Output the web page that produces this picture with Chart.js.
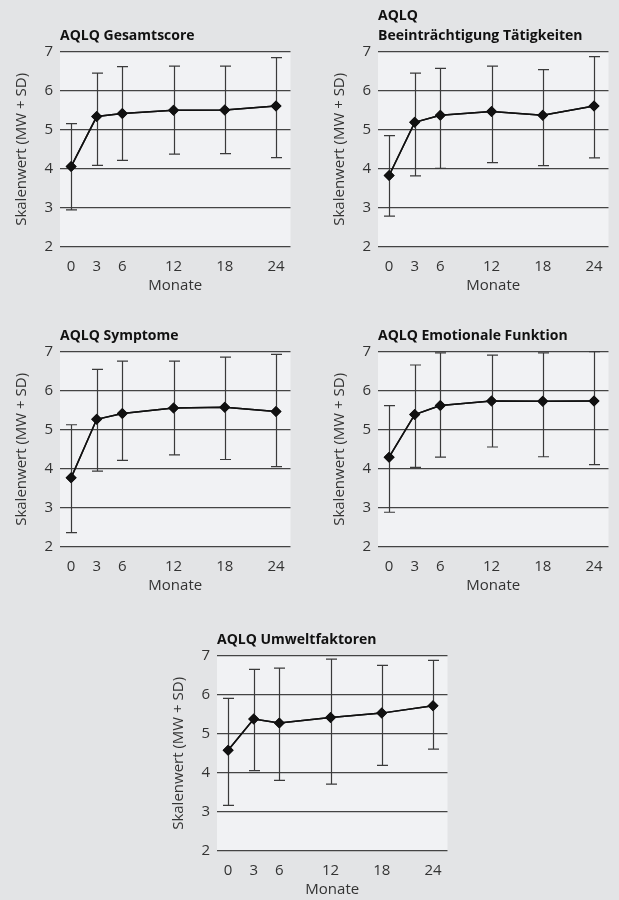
<!DOCTYPE html>
<html>
<head>
<meta charset="utf-8">
<script src="https://cdn.jsdelivr.net/npm/chart.js@4.4.0/dist/chart.umd.min.js"></script>
<style>
  html, body { margin: 0; padding: 0; background: #e3e4e6; overflow: hidden; }
  body { width: 619px; height: 900px; position: relative; }
  .box { position: absolute; width: 296px; height: 300px; }
</style>
</head>
<body>
<div class="box" style="left:0px;top:0px"><canvas id="chart1"></canvas></div>
<div class="box" style="left:318px;top:0px"><canvas id="chart2"></canvas></div>
<div class="box" style="left:0px;top:300px"><canvas id="chart3"></canvas></div>
<div class="box" style="left:318px;top:300px"><canvas id="chart4"></canvas></div>
<div class="box" style="left:157px;top:604px"><canvas id="chart5"></canvas></div>
<script>
// Monate
const months = [0, 3, 6, 12, 18, 24];
const yTicks = [2, 3, 4, 5, 6, 7];

const titles = [
    "AQLQ Gesamtscore",
    ["AQLQ", "Beeinträchtigung Tätigkeiten"],
    "AQLQ Symptome",
    "AQLQ Emotionale Funktion",
    "AQLQ Umweltfaktoren"
];

// Mittelwerte
const meanGesamt = [4.06, 5.34, 5.42, 5.50, 5.51, 5.61];
const meanTaetig = [3.83, 5.19, 5.37, 5.47, 5.37, 5.61];
const meanSympt = [3.77, 5.27, 5.42, 5.56, 5.58, 5.47];
const meanEmo = [4.30, 5.39, 5.62, 5.74, 5.73, 5.74];
const meanUmwelt = [4.58, 5.38, 5.28, 5.42, 5.53, 5.72];

// obere / untere Grenze (MW +/- SD)
const upperGesamt = [5.16, 6.45, 6.62, 6.63, 6.63, 6.85];
const lowerGesamt = [2.95, 4.09, 4.22, 4.38, 4.39, 4.29];
const upperTaetig = [4.85, 6.45, 6.57, 6.63, 6.54, 6.87];
const lowerTaetig = [2.79, 3.82, 4.01, 4.16, 4.08, 4.28];
const upperSympt = [5.13, 6.55, 6.76, 6.76, 6.86, 6.93];
const lowerSympt = [2.37, 3.94, 4.22, 4.36, 4.24, 4.06];
const upperEmo = [5.62, 6.66, 6.97, 6.91, 6.97, 7.0];
const lowerEmo = [2.89, 4.04, 4.30, 4.56, 4.31, 4.11];
const upperUmwelt = [5.91, 6.65, 6.68, 6.91, 6.75, 6.88];
const lowerUmwelt = [3.17, 4.06, 3.81, 3.71, 4.19, 4.61];

const means = [meanGesamt, meanTaetig, meanSympt, meanEmo, meanUmwelt];
const uppers = [upperGesamt, upperTaetig, upperSympt, upperEmo, upperUmwelt];
const lowers = [lowerGesamt, lowerTaetig, lowerSympt, lowerEmo, lowerUmwelt];

const FONT = "'Open Sans', sans-serif";

const plotBg = {
    id: "plotBg",
    beforeDraw(chart) {
        const a = chart.chartArea;
        const c = chart.ctx;
        c.save();
        c.fillStyle = "#f1f2f4";
        c.fillRect(a.left, a.top, a.right - a.left, a.bottom - a.top);
        c.restore();
    }
};

const errorBars = {
    id: "errorBars",
    afterDatasetsDraw(chart) {
        const i = chart.options.plugins.errorBars.index;
        const x = chart.scales.x, y = chart.scales.y;
        const c = chart.ctx;
        c.save();
        c.strokeStyle = "#3a3a3a";
        c.lineWidth = 1.2;
        months.forEach((m, k) => {
            const px = Math.round(x.getPixelForValue(m)) + 0.5;
            const top = y.getPixelForValue(uppers[i][k]);
            const bot = y.getPixelForValue(lowers[i][k]);
            c.beginPath();
            c.moveTo(px, top); c.lineTo(px, bot);
            c.moveTo(px - 5.5, top); c.lineTo(px + 5.5, top);
            c.moveTo(px - 5.5, bot); c.lineTo(px + 5.5, bot);
            c.stroke();
        });
        c.restore();
        // Rauten nochmal obendrauf
        chart.getDatasetMeta(0).controller.draw();
    }
};

function createConfig(index) {
    const twoLines = Array.isArray(titles[index]);
    return {
        type: "line",
        data: {
            datasets: [{
                data: months.map((m, k) => ({ x: m, y: means[index][k] })),
                borderColor: "#111",
                borderWidth: 1.5,
                backgroundColor: "#111",
                pointStyle: "rectRot",
                pointRadius: 5.5,
                pointBorderWidth: 0,
                tension: 0
            }]
        },
        options: {
            responsive: true,
            maintainAspectRatio: false,
            animation: false,
            layout: { padding: { left: 0, right: 0, top: 0, bottom: 0 } },
            plugins: {
                legend: { display: false },
                tooltip: { enabled: false },
                errorBars: { index: index },
                title: {
                    display: true,
                    text: titles[index],
                    align: "start",
                    fullSize: false,
                    color: "#111",
                    font: { family: FONT, size: 14, weight: "bold", lineHeight: twoLines ? 1.45 : 1.2 },
                    padding: twoLines ? { top: 5.5, bottom: 5.5 } : { top: 27.5, bottom: 7.4 }
                }
            },
            scales: {
                x: {
                    type: "linear",
                    min: -1.3,
                    max: 25.7,
                    afterBuildTicks: s => { s.ticks = months.map(v => ({ value: v })); },
                    afterFit: s => { s.height = 53; },
                    grid: { display: false, drawTicks: false },
                    border: { display: false },
                    ticks: { color: "#333", padding: 11, font: { family: FONT, size: 15 }, maxRotation: 0 },
                    title: { display: true, text: "Monate", color: "#333", font: { family: FONT, size: 15 }, padding: { top: 0, bottom: 5 } }
                },
                y: {
                    min: 2,
                    max: 7,
                    afterBuildTicks: s => { s.ticks = yTicks.map(v => ({ value: v })); },
                    afterFit: s => { s.width = 60; },
                    grid: { color: "#444", lineWidth: 1.2, drawTicks: false },
                    border: { display: false },
                    ticks: { color: "#333", padding: 7, font: { family: FONT, size: 15 } },
                    title: { display: true, text: "Skalenwert (MW + SD)", color: "#333", font: { family: FONT, size: 15 }, padding: { top: 13, bottom: 0 } }
                }
            }
        },
        plugins: [plotBg, errorBars]
    };
}

const charts = [1, 2, 3, 4, 5].map((n, i) =>
    new Chart(document.getElementById("chart" + n), createConfig(i))
);
</script>
</body>
</html>
